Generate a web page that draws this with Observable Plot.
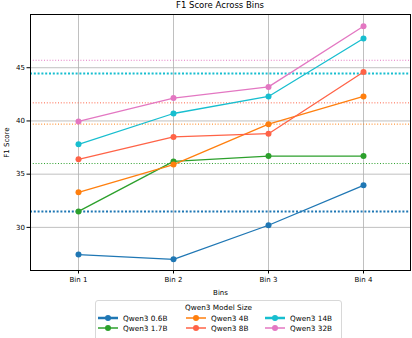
<!DOCTYPE html>
<html><head><meta charset="utf-8">
<script src="https://cdn.jsdelivr.net/npm/d3@7"></script>
<script src="https://cdn.jsdelivr.net/npm/@observablehq/plot@0.6"></script>
<style>
body{margin:0;background:#fff;font-family:"DejaVu Sans",sans-serif;}
#wrap{position:relative;width:412px;height:338px;overflow:hidden;}
#title{position:absolute;top:0;left:30px;width:380px;text-align:center;font-size:8.5px;color:#000;}
#legend{position:absolute;left:95px;top:300px;width:247px;height:42px;border:1px solid #d8d8d8;border-radius:3px;box-sizing:border-box;background:#fff;font-size:7.3px;color:#000;}
#legend .lt{text-align:center;margin-top:2px;line-height:10px;}
#legend .grid{display:grid;grid-template-columns:88px 79px 76px;padding-left:2px;row-gap:0px;}
#legend .it{display:flex;align-items:center;height:10px;}
#legend svg{margin-right:5px;}
</style></head><body>
<div id="wrap"><div id="title">F1 Score Across Bins</div><div id="legend"></div></div>
<script>
const bins = ["Bin 1","Bin 2","Bin 3","Bin 4"];
const models = ["Qwen3 0.6B","Qwen3 1.7B","Qwen3 4B","Qwen3 8B","Qwen3 14B","Qwen3 32B"];
const colors = ["#1f77b4","#2ca02c","#ff7f0e","#ff6347","#17becf","#e377c2"];
const scores06 = [27.45, 27.0, 30.2, 33.95];
const scores17 = [31.5, 36.2, 36.7, 36.7];
const scores4  = [33.3, 35.9, 39.7, 42.3];
const scores8  = [36.4, 38.5, 38.8, 44.6];
const scores14 = [37.8, 40.7, 42.3, 47.75];
const scores32 = [39.95, 42.15, 43.2, 48.9];
const baselines = [31.5, 36.0, 39.7, 41.7, 44.45, 45.7];
const yTicks = [30, 35, 40, 45];

const series = [scores06, scores17, scores4, scores8, scores14, scores32];
const rows = [];
series.forEach((s, m) => s.forEach((v, i) => rows.push({model: models[m], bin: bins[i], score: v})));
const base = baselines.map((v, m) => ({model: models[m], score: v, thick: m === 0 || m === 4}));

const plot = Plot.plot({
  width: 412, height: 338,
  marginLeft: 30, marginRight: 2, marginTop: 14, marginBottom: 68,
  style: {fontFamily: "DejaVu Sans, sans-serif", fontSize: "7px", color: "#000", background: "transparent"},
  x: {type: "point", domain: bins, padding: 0.5},
  y: {domain: [25.95, 50]},
  color: {domain: models, range: colors},
  marks: [
    Plot.gridX(bins, {stroke: "#b0b0b0", strokeOpacity: 1, strokeWidth: 0.8}),
    Plot.gridY(yTicks, {stroke: "#b0b0b0", strokeOpacity: 1, strokeWidth: 0.8}),
    Plot.ruleY(base.filter(d => !d.thick), {y: "score", stroke: "model", strokeWidth: 1, strokeDasharray: "1,1.8"}),
    Plot.ruleY(base.filter(d => d.thick), {y: "score", stroke: "model", strokeWidth: 2, strokeDasharray: "2,1.8"}),
    Plot.line(rows, {x: "bin", y: "score", z: "model", stroke: "model", strokeWidth: 1.3}),
    Plot.dot(rows, {x: "bin", y: "score", fill: "model", r: 3}),
    Plot.axisY(yTicks, {tickSize: 3.5, tickPadding: 2, fontSize: 7, label: "F1 Score", labelAnchor: "center", labelArrow: "none", labelOffset: 26}),
    Plot.axisX(bins, {tickSize: 3.5, tickPadding: 3, fontSize: 7, label: "Bins", labelAnchor: "center", labelArrow: "none", labelOffset: 24}),
    Plot.frame({stroke: "#000", strokeWidth: 1})
  ]
});
document.getElementById("wrap").prepend(plot);

const leg = document.getElementById("legend");
leg.innerHTML = '<div class="lt">Qwen3 Model Size</div><div class="grid"></div>';
const g = leg.querySelector(".grid");
const order = [0, 2, 4, 1, 3, 5];
order.forEach(m => {
  const w = (m === 0 || m === 4) ? 2.5 : 1.5;
  const it = document.createElement("div");
  it.className = "it";
  it.innerHTML = `<svg width="20" height="8"><line x1="0" x2="20" y1="4" y2="4" stroke="${colors[m]}" stroke-width="${w}"/><circle cx="10" cy="4" r="3" fill="${colors[m]}"/></svg><span>${models[m]}</span>`;
  g.appendChild(it);
});
</script></body></html>
